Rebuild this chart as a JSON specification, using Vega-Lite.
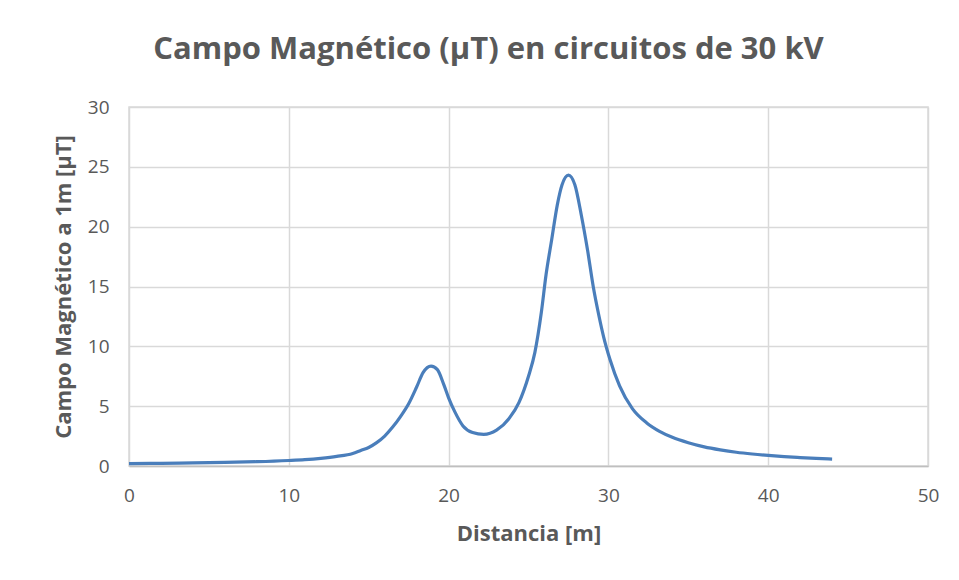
{
  "$schema": "https://vega.github.io/schema/vega-lite/v6.json",
  "width": 799,
  "height": 359,
  "autosize": {"type": "none"},
  "padding": {"left": 129, "top": 107, "right": 31, "bottom": 114},
  "background": "white",
  "title": {
    "text": "Campo Magnético (µT) en circuitos de 30 kV",
    "font": "Open Sans",
    "fontSize": 31,
    "fontWeight": "bold",
    "color": "#595959",
    "anchor": "middle",
    "dx": -40,
    "offset": 32
  },
  "config": {
    "view": {"stroke": "#d9d9d9", "strokeWidth": 1.5},
    "axis": {
      "labelFont": "Open Sans",
      "labelFontSize": 19,
      "labelColor": "#595959",
      "titleFont": "Open Sans",
      "titleFontSize": 22,
      "titleFontWeight": "bold",
      "titleColor": "#595959",
      "gridColor": "#d9d9d9",
      "gridWidth": 1.5,
      "tickSize": 0,
      "domainColor": "#bfbfbf",
      "domainWidth": 1.5
    }
  },
  "data": {
    "values": [
      {"d": 0, "b": 0.2},
      {"d": 2, "b": 0.22},
      {"d": 4, "b": 0.26},
      {"d": 6, "b": 0.3},
      {"d": 8, "b": 0.36},
      {"d": 10, "b": 0.46},
      {"d": 11, "b": 0.53},
      {"d": 12, "b": 0.64},
      {"d": 13, "b": 0.8},
      {"d": 14, "b": 1.05},
      {"d": 14.5, "b": 1.3},
      {"d": 15, "b": 1.55},
      {"d": 15.5, "b": 1.95},
      {"d": 16, "b": 2.5},
      {"d": 16.5, "b": 3.25},
      {"d": 17, "b": 4.15},
      {"d": 17.5, "b": 5.2},
      {"d": 18, "b": 6.6},
      {"d": 18.4, "b": 7.8},
      {"d": 18.9, "b": 8.35},
      {"d": 19.3, "b": 8.05},
      {"d": 19.7, "b": 6.8},
      {"d": 20.0, "b": 5.7},
      {"d": 20.4, "b": 4.5},
      {"d": 20.9, "b": 3.35},
      {"d": 21.5, "b": 2.8},
      {"d": 22.2, "b": 2.65},
      {"d": 23.0, "b": 3.0},
      {"d": 23.8, "b": 4.0},
      {"d": 24.4, "b": 5.3},
      {"d": 25.0, "b": 7.5},
      {"d": 25.4, "b": 9.5},
      {"d": 25.8, "b": 12.8},
      {"d": 26.1, "b": 16.0},
      {"d": 26.45, "b": 18.9},
      {"d": 26.8, "b": 21.8},
      {"d": 27.1, "b": 23.5},
      {"d": 27.5, "b": 24.3},
      {"d": 27.9, "b": 23.5},
      {"d": 28.3, "b": 21.0},
      {"d": 28.7, "b": 18.0},
      {"d": 29.05, "b": 15.0},
      {"d": 29.4, "b": 12.6},
      {"d": 29.7, "b": 10.8},
      {"d": 30.1, "b": 8.9},
      {"d": 30.7, "b": 6.7},
      {"d": 31.5, "b": 4.8},
      {"d": 32.4, "b": 3.6},
      {"d": 33.2, "b": 2.9},
      {"d": 34, "b": 2.4},
      {"d": 35, "b": 1.95},
      {"d": 36, "b": 1.6},
      {"d": 37, "b": 1.35},
      {"d": 38, "b": 1.15},
      {"d": 39, "b": 1.0},
      {"d": 40, "b": 0.88},
      {"d": 41, "b": 0.78},
      {"d": 42, "b": 0.7},
      {"d": 43, "b": 0.63},
      {"d": 44, "b": 0.58}
    ]
  },
  "mark": {"type": "line", "interpolate": "monotone", "color": "#4a7ebb", "strokeWidth": 3.2},
  "encoding": {
    "x": {
      "field": "d",
      "type": "quantitative",
      "title": "Distancia [m]",
      "scale": {"domain": [0, 50], "nice": false},
      "axis": {"values": [0, 10, 20, 30, 40, 50], "labelFlush": false, "labelPadding": 20, "titlePadding": 18}
    },
    "y": {
      "field": "b",
      "type": "quantitative",
      "title": "Campo Magnético a 1m [µT]",
      "scale": {"domain": [0, 30], "nice": false},
      "axis": {"values": [0, 5, 10, 15, 20, 25, 30], "labelPadding": 20, "titlePadding": 12, "domain": false}
    }
  }
}
